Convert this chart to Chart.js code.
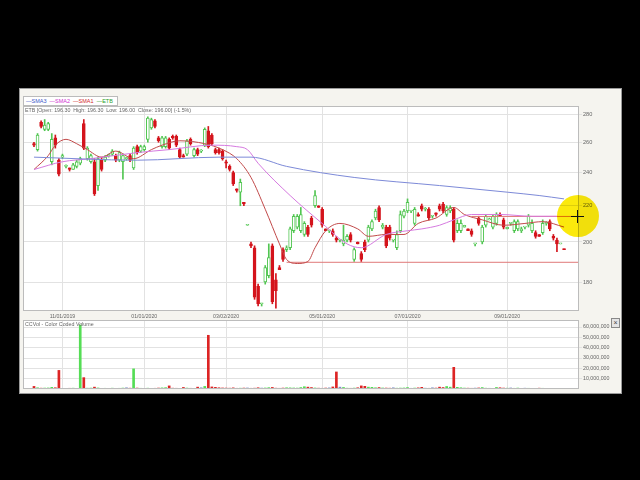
<!DOCTYPE html>
<html>
<head>
<meta charset="utf-8">
<script src="https://cdn.jsdelivr.net/npm/chart.js@4.4.0/dist/chart.umd.min.js"></script>
<style>
  html, body { margin: 0; padding: 0; background: #000; }
  body { width: 640px; height: 480px; position: relative; overflow: hidden; font-family: "Liberation Sans", Arial, sans-serif; }
  .app { position: absolute; left: 19px; top: 88px; width: 601px; height: 304px; background: #f5f4ef; border: 1px solid #9a9a9a; }
  canvas { position: absolute; }
  #price { left: 23px; top: 106px; }
  #vol { left: 23px; top: 320px; }
  .legend { position: absolute; left: 23px; top: 96px; width: 91px; height: 8px; background: #fff; border: 1px solid #bbb; font-size: 5.5px; line-height: 8px; white-space: pre; padding-left: 2px; }
  .info { position: absolute; left: 25px; top: 107px; font-size: 5.3px; color: #666; white-space: pre; }
  .voltitle { position: absolute; left: 25px; top: 321px; font-size: 5.3px; color: #666; }
  .close { position: absolute; left: 611px; top: 318px; width: 7px; height: 8px; border: 1px solid #888; background: #e4e4e4; font-size: 7px; line-height: 7px; text-align: center; color: #444; }
  .spot { position: absolute; left: 557px; top: 195px; width: 42px; height: 42px; border-radius: 50%; background: #fbe90c; mix-blend-mode: multiply; }
  .hair-h { position: absolute; left: 571px; top: 216px; width: 13px; height: 1px; background: #111; }
  .hair-v { position: absolute; left: 577px; top: 210px; width: 1px; height: 13px; background: #111; }
</style>
</head>
<body>
<div class="app"></div>
<canvas id="price" width="588" height="216"></canvas>
<canvas id="vol" width="596" height="69"></canvas>
<div class="legend"><span style="color:#3a56c8">—SMA3</span>  <span style="color:#d030d0">—SMA2</span>  <span style="color:#d02828">—SMA1</span>  <span style="color:#2aa02a">—ETB</span></div>
<div class="info">ETB [Open: 196.30  High: 196.30  Low: 196.00  Close: 196.00] (-1.5%)</div>
<div class="voltitle">CCVol - Color Coded Volume</div>
<div class="close">×</div>
<div class="spot"></div>
<div class="hair-h"></div>
<div class="hair-v"></div>
<script>
// candles, one per index
const opens = [
  259,255,274,269,269,247,263,248,250,244,
  243,242,244,246,273,249,247,247,232,248,
  248,251,252,251,248,247,249,251,243,257,
  254,255,262,270,275,263,257,257,262,264,
  264,255,251,252,262,251,255,254,258,268,
  265,255,255,254,247,244,240,230,228,222,
  209,199,197,178,170,180,183,198,181,187,
  196,196,197,206,208,206,204,208,213,220,
  220,218,207,206,206,202,201,199,201,204,
  191,200,194,200,201,207,213,219,208,208,
  208,201,197,206,214,217,217,210,215,220,
  218,218,214,216,220,221,215,217,218,206,
  206,208,207,206,199,213,200,209,212,208,
  210,215,212,207,210,206,207,206,208,209,
  206,205,204,205,210,211,203,201,199,196.3
];
const highs = [
  260,266,275,276,274,266,265,249,252,245,
  243,246,248,250,276,257,252,249,250,250,
  251,252,255,252,254,252,250,252,257,258,
  258,258,278,277,276,264,264,264,263,265,
  265,256,252,262,263,256,256,255,270,271,
  266,256,256,255,248,245,241,230,236,222,
  209,200,198,179,170,188,199,199,184,188,
  197,198,208,215,215,219,211,209,214,229,
  220,219,207,206,207,203,201,209,204,205,
  197,200,195,201,209,212,218,220,210,209,
  209,201,206,217,218,224,217,219,216,221,
  219,219,214,216,221,222,220,220,219,212,
  212,209,207,207,199,214,209,215,213,215,
  216,216,213,208,210,212,212,208,208,215,
  212,206,204,212,211,212,204,202,199,196.3
];
const lows = [
  257,254,270,268,268,245,256,238,249,243,
  241,242,243,245,255,248,246,226,229,241,
  247,250,251,247,247,236,248,247,242,252,
  253,254,260,269,270,260,256,256,255,262,
  257,249,250,251,258,250,251,253,257,256,
  258,252,252,248,243,241,232,228,220,220,
  209,197,172,169,169,179,182,170,168,186,
  190,195,196,205,207,205,203,203,208,219,
  219,208,206,205,203,200,200,198,200,200,
  190,199,190,195,200,206,212,211,207,197,
  201,200,196,205,213,216,216,209,214,217,
  217,212,213,214,217,216,214,216,200,205,
  205,208,206,203,198,209,199,208,212,207,
  209,214,207,207,209,205,206,205,207,208,
  205,202,203,204,209,206,201,195,199,196
];
const closes = [
  258,265,271,272,273,262,258,239,251,244,
  242,245,247,249,256,256,251,227,249,242,
  250,251,254,248,253,251,249,248,256,253,
  257,257,277,276,271,261,263,263,256,263,
  258,250,250,261,259,255,252,254,269,257,
  259,253,253,249,246,242,233,229,234,221,
  209,198,173,170,170,187,192,171,176,186,
  191,197,207,214,214,215,210,204,209,226,
  219,209,206,206,204,201,201,201,203,201,
  196,199,191,196,208,211,217,212,209,198,
  202,201,204,215,217,222,217,218,214,218,
  218,213,214,215,218,217,219,219,201,210,
  210,209,206,204,199,210,208,214,212,214,
  215,214,208,208,210,211,211,207,208,214,
  210,203,203,210,210,207,202,199,199,196
];
// volume, millions
const vols = [
  2.5,1.2,0.8,0.9,1.0,1.6,1.2,18,0.6,0.5,
  0.7,0.8,0.6,62,11,0.8,0.9,1.8,1.0,0.6,
  0.7,0.5,0.8,0.6,0.7,0.9,1.2,0.8,19.5,0.9,
  0.7,0.6,0.8,0.5,0.7,0.9,1.1,1.3,3.0,0.8,
  0.7,0.6,1.5,0.9,0.7,0.6,1.8,1.2,2.5,52,
  2.0,1.6,1.2,1.0,0.9,0.8,1.1,0.7,0.8,0.9,
  1.0,0.7,0.8,1.2,0.9,1.0,1.3,1.5,0.8,0.7,
  0.9,1.2,1.1,1.0,0.9,1.4,2.2,1.8,1.4,1.0,
  0.8,0.7,0.9,1.1,2.0,16.5,1.8,1.5,0.8,0.7,
  0.9,1.2,3.0,2.6,1.8,1.6,1.2,1.4,1.0,0.9,
  0.8,1.2,0.8,0.9,1.0,1.4,0.7,0.9,1.1,1.6,
  0.8,0.7,1.2,0.9,1.8,1.4,2.4,1.8,21,1.6,
  1.2,0.9,0.8,0.7,0.9,1.0,1.4,0.8,0.7,0.6,
  1.5,1.2,0.9,0.8,1.0,0.7,0.9,0.6,0.8,0.7,
  0.5,0.6,0.8,0.7,0.5,0.6,0.4,0.5,0.6,0.5
];

// moving averages at sample candles
const sma1X = [0,4,6,9,12,15,19,23,28,33,36,41,48,53,57,61,65,69,71,74,77,79,82,86,91,94,99,104,108,113,118,121,126,132,138,143,149];
const sma1Y = [242,251,258,262,259,255,250,254,249,255,258,261,259,255,249,237,218,199,191,189,190,197,206,210,207,203,204,204,210,213,219,215,212,209,210,211,208];
const sma2X = [0,8,16,29,38,50,57,60,63,72,81,88,92,99,105,109,114,118,123,131,140,147];
const sma2Y = [242,247,249,253,255,258,257,255,246,226,210,199,197,204,206,207,209,212,215,215,214,214];
const sma3X = [0,29,52,61,71,90,114,133,142,149];
const sma3Y = [250,248,250,250,244,237,232,228,226,224];

// drawn horizontal levels
const levelStart = [71, 123];
const levelVals = [189.6, 213.9];

const tickIdx = [8, 31, 54, 81, 105, 133];
const tickLabels = ['11/01/2019', '01/01/2020', '03/02/2020', '05/01/2020', '07/01/2020', '09/01/2020'];
const priceTicks = [180, 200, 220, 240, 260, 280];
const volTicks = [10, 20, 30, 40, 50, 60];

const X_MIN = -3.09, X_MAX = 153.2;
const GREEN = '#52c652', RED = '#d4141c', GRID = '#e2e2e2';

Chart.defaults.font.family = '"Liberation Sans", Arial, sans-serif';
Chart.defaults.color = '#666';

const plotBox = {
  id: 'plotBox',
  beforeDraw(chart) {
    const { ctx, chartArea: a } = chart;
    ctx.save();
    ctx.fillStyle = '#fff';
    ctx.fillRect(a.left, a.top, a.width, a.height);
    ctx.restore();
  },
  afterDraw(chart) {
    const { ctx, chartArea: a } = chart;
    ctx.save();
    ctx.strokeStyle = '#bcbcbc';
    ctx.lineWidth = 1;
    ctx.strokeRect(a.left + 0.5, a.top + 0.5, a.width - 1, a.height - 1);
    ctx.restore();
  }
};

const idx = opens.map((_, i) => i);
const up = i => closes[i] >= opens[i];
const pts = (xs, ys) => xs.map((x, i) => ({ x, y: ys[i] }));

function xScale(showLabels) {
  return {
    type: 'linear', min: X_MIN, max: X_MAX, offset: false,
    afterBuildTicks: s => { s.ticks = tickIdx.map(v => ({ value: v })); },
    afterFit: s => { s.height = showLabels ? 11 : 0; s.paddingLeft = 0; s.paddingRight = 0; },
    grid: { color: GRID, drawTicks: false, offset: false },
    border: { display: false },
    ticks: { display: showLabels, callback: (v, i) => tickLabels[i], font: { size: 5.2 }, padding: 2, maxRotation: 0, autoSkip: false }
  };
}

const smaLine = (label, xs, ys, color) => ({
  type: 'line', label, data: pts(xs, ys), borderColor: color, borderWidth: 1,
  pointRadius: 0, cubicInterpolationMode: 'monotone', order: 0
});

new Chart(document.getElementById('price'), {
  type: 'bar',
  data: {
    datasets: [
      smaLine('SMA3', sma3X, sma3Y, '#7d8ad8'),
      smaLine('SMA2', sma2X, sma2Y, '#d67ae0'),
      smaLine('SMA1', sma1X, sma1Y, '#c24a4a'),
      ...levelVals.map((v, k) => ({
        type: 'line', data: [{ x: levelStart[k], y: v }, { x: X_MAX, y: v }],
        borderColor: '#e07878', borderWidth: 1, pointRadius: 0, order: 0
      })),
      {
        label: 'wick', data: idx.map(i => ({ x: i, y: [lows[i], highs[i]] })),
        backgroundColor: c => up(c.dataIndex) ? GREEN : RED,
        barThickness: 1, grouped: false, order: 2
      },
      {
        label: 'ETB', data: idx.map(i => ({ x: i, y: [opens[i], closes[i]] })),
        backgroundColor: c => up(c.dataIndex) ? '#fff' : RED,
        borderColor: c => up(c.dataIndex) ? GREEN : RED,
        borderWidth: 1, borderSkipped: false, barThickness: 3, minBarLength: 1,
        grouped: false, order: 1
      }
    ]
  },
  options: {
    responsive: false, animation: false, events: [],
    layout: { padding: 0 },
    plugins: { legend: { display: false }, tooltip: { enabled: false } },
    scales: {
      x: xScale(true),
      y: {
        type: 'logarithmic', position: 'right', min: 166.8, max: 286,
        afterBuildTicks: s => { s.ticks = priceTicks.map(v => ({ value: v })); },
        afterFit: s => { s.width = 32; s.paddingTop = 0; s.paddingBottom = 0; },
        grid: { color: GRID, tickLength: 3 },
        border: { display: false },
        ticks: { callback: v => v, font: { size: 5.6 }, padding: 1 }
      }
    }
  },
  plugins: [plotBox]
});

new Chart(document.getElementById('vol'), {
  type: 'bar',
  data: {
    datasets: [{
      label: 'CCVol', data: idx.map(i => ({ x: i, y: vols[i] })),
      backgroundColor: c => closes[c.dataIndex] > opens[c.dataIndex] ? '#55dd55'
        : closes[c.dataIndex] < opens[c.dataIndex] ? '#dd2424' : '#7f8fc8',
      barThickness: 2
    }]
  },
  options: {
    responsive: false, animation: false, events: [],
    layout: { padding: 0 },
    plugins: { legend: { display: false }, tooltip: { enabled: false } },
    scales: {
      x: xScale(false),
      y: {
        position: 'right', min: 0, max: 66.8,
        afterBuildTicks: s => { s.ticks = volTicks.map(v => ({ value: v })); },
        afterFit: s => { s.width = 40; s.paddingTop = 0; s.paddingBottom = 0; },
        grid: { color: GRID, tickLength: 3 },
        border: { display: false },
        ticks: { callback: v => (v * 1000000).toLocaleString('en-US'), font: { size: 5.3 }, padding: 1 }
      }
    }
  },
  plugins: [plotBox]
});
</script>
</body>
</html>
